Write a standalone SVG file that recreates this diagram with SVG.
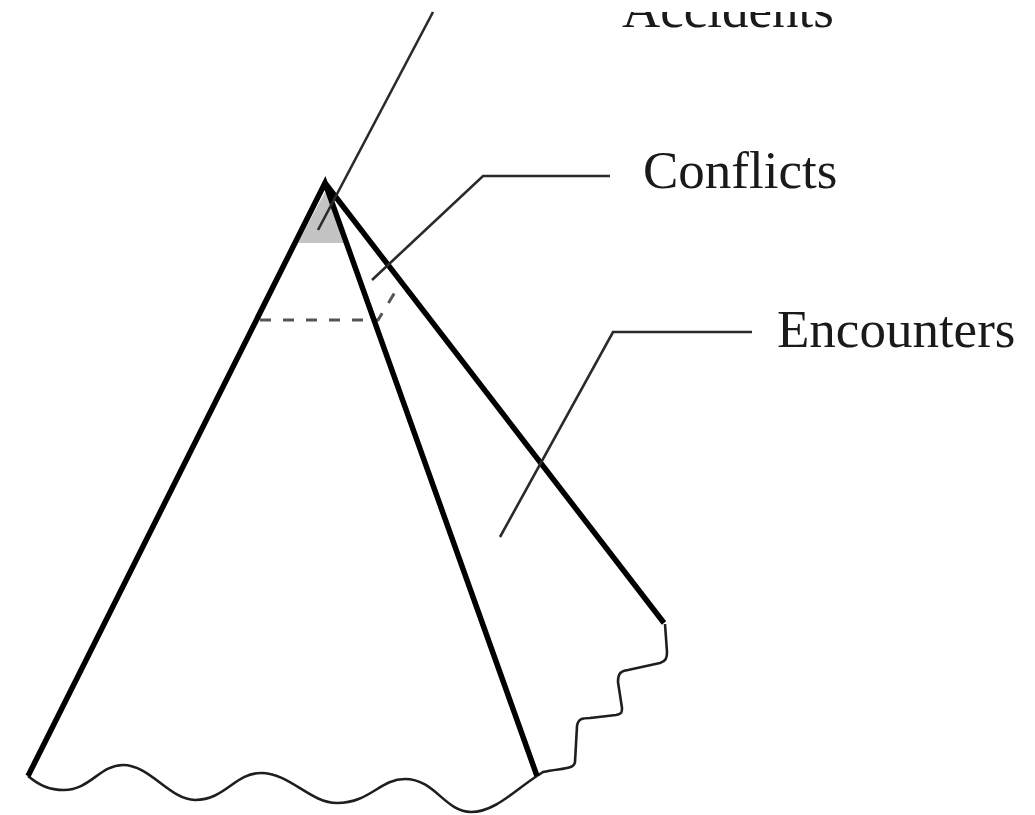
<svg xmlns="http://www.w3.org/2000/svg" width="1035" height="815" viewBox="0 0 1035 815">
<style>
.edge{stroke:#000;stroke-width:5.5;fill:none;stroke-linecap:butt}
.lead{stroke:#2a2a2a;stroke-width:2.6;fill:none}
.wave{stroke:#1e1e1e;stroke-width:2.6;fill:none;stroke-linejoin:round}
.dash{stroke:#555;stroke-width:3;fill:none;stroke-dasharray:11 12}
.lbl{font-family:"Liberation Serif","Times New Roman",serif;font-size:53px;fill:#1a1a1a}
</style>
<defs>
<clipPath id="topcut"><rect x="0" y="12" width="1035" height="803"/></clipPath>
</defs>
<rect width="1035" height="815" fill="#fff"/>
<g id="accidents-region">
<polygon points="325,192 298,243 344,243" fill="#c4c4c4"/>
</g>
<g id="conflicts-region">
<path class="dash" d="M260,320 L378,320 L400,284"/>
</g>
<g id="encounters-region">
<path class="wave" d="M28,776 C40,786 50,790 64,790 C90,790 100,765 123,765 C150,765 170,800 195,800 C225,800 235,773 261,773 C290,773 310,803 337,803 C370,803 380,779 405,779 C435,779 445,812 471,812 C495,812 515,790 537,776"/>
<path class="wave" d="M537,776 L543,772 C560,768 574,770 575,762 L577,726 C578,719 582,718 590,718 L616,715 C622,714 622,712 622,708 L618,682 C618,673 621,671 628,670 L660,663 C666,661 667,658 667,652 L665,624"/>
</g>
<g id="cone">
<path class="edge" d="M28,776 L325,183 L537,776"/>
<path class="edge" d="M325,183 L664,623"/>
</g>
<g id="connectors">
<path class="lead" d="M433,12 L318,230"/>
<path class="lead" d="M610,176 L483,176 L372,280"/>
<path class="lead" d="M752,332 L613,332 L500,537"/>
</g>
<g id="labels">
<text class="lbl" x="622" y="27" clip-path="url(#topcut)">Accidents</text>
<text class="lbl" x="643" y="188">Conflicts</text>
<text class="lbl" x="777" y="347">Encounters</text>
</g>
</svg>
